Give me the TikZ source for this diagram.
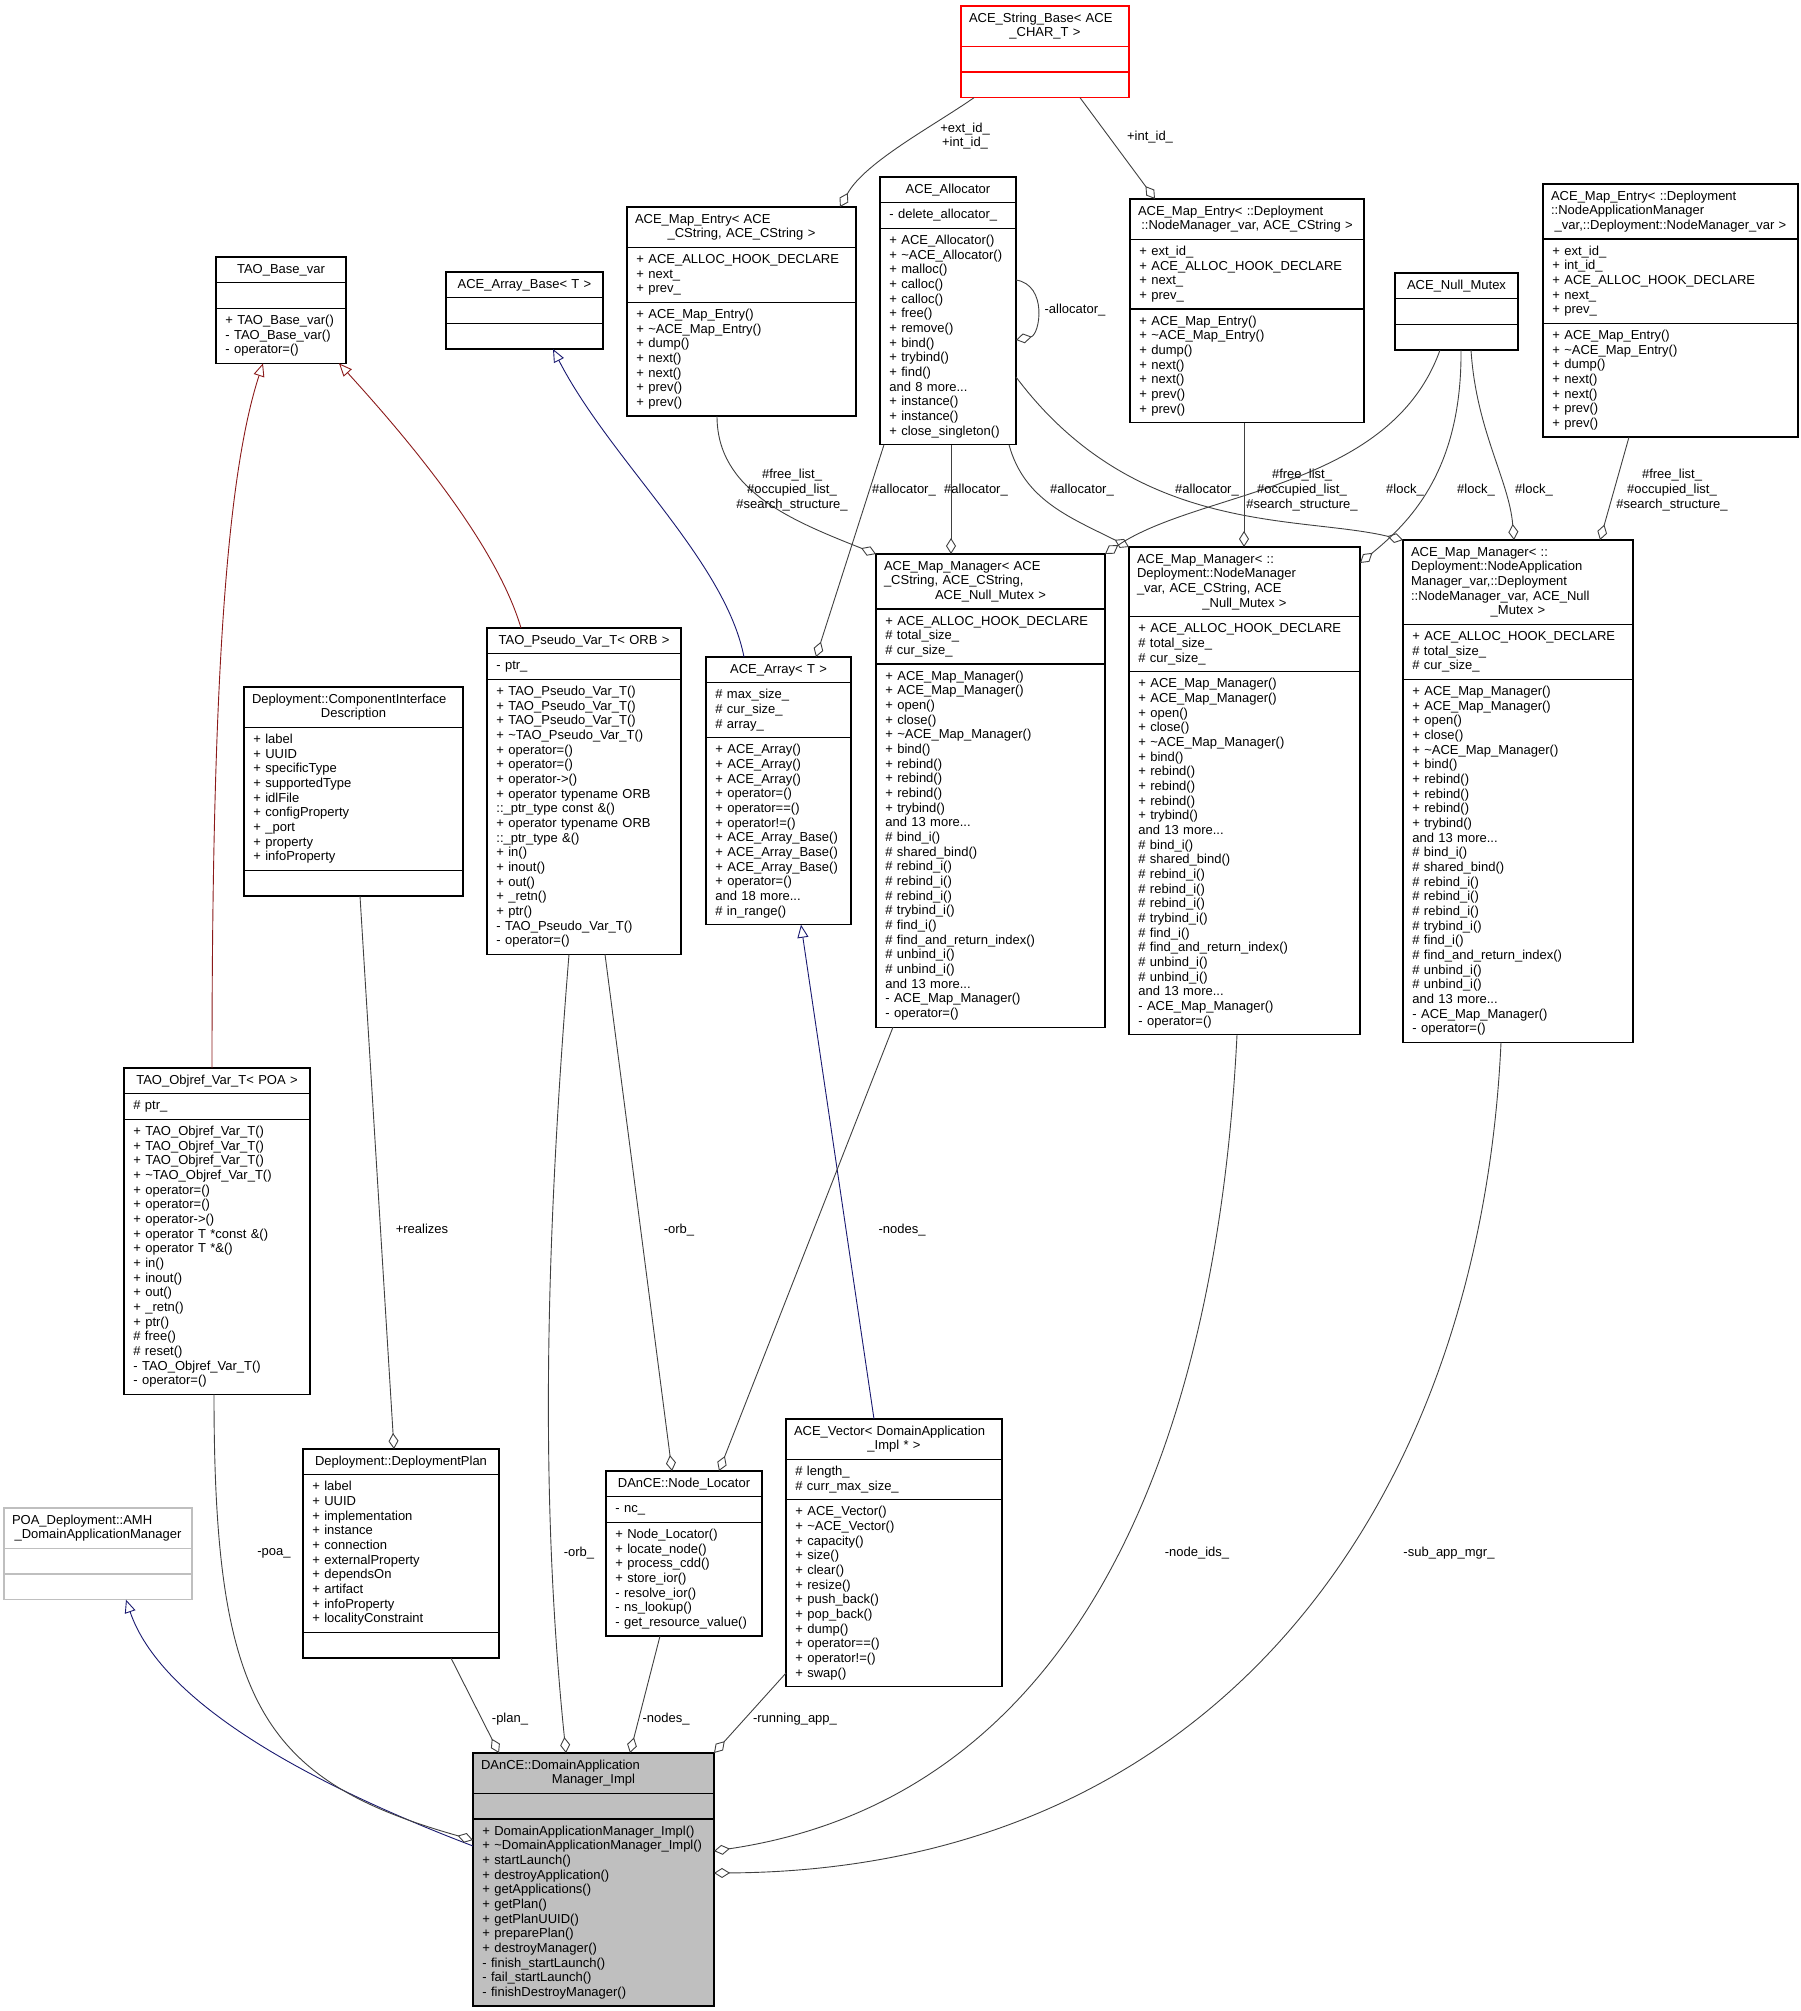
\documentclass[tikz,border=0pt]{standalone}
\usepackage{fontspec}
\setmainfont{Liberation Sans}
\usetikzlibrary{arrows.meta,calc}

\definecolor{relgrey}{HTML}{404040}
\definecolor{pubblue}{HTML}{191970}
\definecolor{privred}{HTML}{8B1A1A}
\definecolor{boxgrey}{HTML}{BFBFBF}

\newcommand{\umlfont}{\fontsize{6.5}{7.33}\selectfont}
\newcommand{\leftln}[1]{\makebox[\hsize][l]{#1}}
\def\umlsplit#1/#2/#3\relax{\def\clsnt{#1}\def\clsna{#2}\def\clsno{#3}}
\newcommand{\meops}{+ ACE\_Map\_Entry()\\+ \textasciitilde ACE\_Map\_Entry()\\+ dump()\\+ next()\\+ next()\\+ prev()\\+ prev()}
\newcommand{\mmattrs}{+ ACE\_ALLOC\_HOOK\_DECLARE\\\# total\_size\_\\\# cur\_size\_}
\newcommand{\mmops}{+ ACE\_Map\_Manager()\\+ ACE\_Map\_Manager()\\+ open()\\+ close()\\+ \textasciitilde ACE\_Map\_Manager()\\+ bind()\\+ rebind()\\+ rebind()\\+ rebind()\\+ trybind()\\and 13 more...\\\# bind\_i()\\\# shared\_bind()\\\# rebind\_i()\\\# rebind\_i()\\\# rebind\_i()\\\# trybind\_i()\\\# find\_i()\\\# find\_and\_return\_index()\\\# unbind\_i()\\\# unbind\_i()\\and 13 more...\\- ACE\_Map\_Manager()\\- operator=()}
\newcommand{\freelbl}{\#free\_list\_\\\#occupied\_list\_\\\#search\_structure\_}

% [style]{name}{x,y}{width}{title/attr/op lines}{title}{attributes}{operations}
\newcommand{\umlcls}[8][]{%
  \umlsplit#5\relax
  \pgfmathsetmacro\clsha{14.67*max(\clsnt,1)+11}%
  \pgfmathsetmacro\clshb{14.67*max(\clsna,1)+11}%
  \pgfmathsetmacro\clshc{14.67*max(\clsno,1)+11}%
  \node[clsbox,#1,minimum width=#4*0.5pt,minimum height=(\clsha+\clshb+\clshc)*0.5pt] (#2) at (#3) {};
  \draw[clsline,#1] ($(#2.north west)+(0,\clsha)$) -- ($(#2.north east)+(0,\clsha)$)
    ($(#2.north west)+(0,\clsha+\clshb)$) -- ($(#2.north east)+(0,\clsha+\clshb)$);
  \node[clstitle,text width=(#4-16)*0.5pt] (#2-t) at ($(#2.north)+(0,5.5)$) {#6};
  \node[clstext,text width=(#4-12)*0.5pt] (#2-a) at ($(#2.north west)+(9,\clsha+5.5)$) {#7};
  \node[clstext,text width=(#4-12)*0.5pt] (#2-o) at ($(#2.north west)+(9,\clsha+\clshb+5.5)$) {#8};
}

\begin{document}
\begin{tikzpicture}[x=0.5pt,y=-0.5pt,
  clsbox/.style={draw,line width=0.6pt,fill=white,inner sep=0pt,outer sep=0pt,anchor=north west},
  clsline/.style={line width=0.6pt},
  clstitle/.style={anchor=north,inner sep=0pt,font=\umlfont,align=center,execute at begin node=\strut},
  clstext/.style={anchor=north west,inner sep=0pt,font=\umlfont,align=left,execute at begin node=\strut},
  lbl/.style={inner sep=0pt,font=\umlfont,align=center},
  aggr/.style={draw=relgrey,line width=0.45pt,-{Diamond[open,length=8pt,width=5pt]}},
  inhpub/.style={draw=pubblue,line width=0.45pt,-{Triangle[open,length=6.5pt,width=5.5pt]}},
  inhpriv/.style={draw=privred,line width=0.45pt,-{Triangle[open,length=6.5pt,width=5.5pt]}}]

\useasboundingbox (0,0) rectangle (1800,2011);

\umlcls[draw=red]{strbase}{961,6}{168}{2/0/0}{\leftln{ACE\_String\_Base< ACE}\\\_CHAR\_T >}{}{}
\umlcls{mecs}{627,207}{229}{2/3/7}{\leftln{ACE\_Map\_Entry< ACE}\\\_CString, ACE\_CString >}{+ ACE\_ALLOC\_HOOK\_DECLARE\\+ next\_\\+ prev\_}{\meops}
\umlcls{alloc}{880,177}{136}{1/1/14}{ACE\_Allocator}{- delete\_allocator\_}{+ ACE\_Allocator()\\+ \textasciitilde ACE\_Allocator()\\+ malloc()\\+ calloc()\\+ calloc()\\+ free()\\+ remove()\\+ bind()\\+ trybind()\\+ find()\\and 8 more...\\+ instance()\\+ instance()\\+ close\_singleton()}
\umlcls{menm}{1130,199}{234}{2/4/7}{\leftln{ACE\_Map\_Entry< ::Deployment}\\::NodeManager\_var, ACE\_CString >}{+ ext\_id\_\\+ ACE\_ALLOC\_HOOK\_DECLARE\\+ next\_\\+ prev\_}{\meops}
\umlcls{menam}{1543,184}{255}{3/5/7}{\leftln{ACE\_Map\_Entry< ::Deployment}\\\leftln{::NodeApplicationManager}\\\_var,::Deployment::NodeManager\_var >}{+ ext\_id\_\\+ int\_id\_\\+ ACE\_ALLOC\_HOOK\_DECLARE\\+ next\_\\+ prev\_}{\meops}
\umlcls{nullmx}{1395,273}{123}{1/0/0}{ACE\_Null\_Mutex}{}{}
\umlcls{basevar}{216,257}{130}{1/0/3}{TAO\_Base\_var}{}{+ TAO\_Base\_var()\\- TAO\_Base\_var()\\- operator=()}
\umlcls{arrbase}{446,272}{157}{1/0/0}{ACE\_Array\_Base< T >}{}{}
\umlcls{pseudo}{487,628}{194}{1/1/18}{TAO\_Pseudo\_Var\_T< ORB >}{- ptr\_}{+ TAO\_Pseudo\_Var\_T()\\+ TAO\_Pseudo\_Var\_T()\\+ TAO\_Pseudo\_Var\_T()\\+ \textasciitilde TAO\_Pseudo\_Var\_T()\\+ operator=()\\+ operator=()\\+ operator->()\\+ operator typename ORB\\::\_ptr\_type const \&()\\+ operator typename ORB\\::\_ptr\_type \&()\\+ in()\\+ inout()\\+ out()\\+ \_retn()\\+ ptr()\\- TAO\_Pseudo\_Var\_T()\\- operator=()}
\umlcls{arr}{706,657}{145}{1/3/12}{ACE\_Array< T >}{\# max\_size\_\\\# cur\_size\_\\\# array\_}{+ ACE\_Array()\\+ ACE\_Array()\\+ ACE\_Array()\\+ operator=()\\+ operator==()\\+ operator!=()\\+ ACE\_Array\_Base()\\+ ACE\_Array\_Base()\\+ ACE\_Array\_Base()\\+ operator=()\\and 18 more...\\\# in\_range()}
\umlcls{mmcs}{876,554}{229}{3/3/24}{\leftln{ACE\_Map\_Manager< ACE}\\\leftln{\_CString, ACE\_CString,}\\ACE\_Null\_Mutex >}{\mmattrs}{\mmops}
\umlcls{mmnm}{1129,547}{231}{4/3/24}{\leftln{ACE\_Map\_Manager< ::}\\\leftln{Deployment::NodeManager}\\\leftln{\_var, ACE\_CString, ACE}\\\_Null\_Mutex >}{\mmattrs}{\mmops}
\umlcls{mmnam}{1403,540}{230}{5/3/24}{\leftln{ACE\_Map\_Manager< ::}\\\leftln{Deployment::NodeApplication}\\\leftln{Manager\_var,::Deployment}\\\leftln{::NodeManager\_var, ACE\_Null}\\\_Mutex >}{\mmattrs}{\mmops}
\umlcls{cid}{244,687}{219}{2/9/0}{\leftln{Deployment::ComponentInterface}\\Description}{+ label\\+ UUID\\+ specificType\\+ supportedType\\+ idlFile\\+ configProperty\\+ \_port\\+ property\\+ infoProperty}{}
\umlcls{objref}{124,1068}{186}{1/1/18}{TAO\_Objref\_Var\_T< POA >}{\# ptr\_}{+ TAO\_Objref\_Var\_T()\\+ TAO\_Objref\_Var\_T()\\+ TAO\_Objref\_Var\_T()\\+ \textasciitilde TAO\_Objref\_Var\_T()\\+ operator=()\\+ operator=()\\+ operator->()\\+ operator T *const \&()\\+ operator T *\&()\\+ in()\\+ inout()\\+ out()\\+ \_retn()\\+ ptr()\\\# free()\\\# reset()\\- TAO\_Objref\_Var\_T()\\- operator=()}
\umlcls[draw=boxgrey]{poa}{4,1508}{188}{2/0/0}{\leftln{POA\_Deployment::AMH}\\\_DomainApplicationManager}{}{}
\umlcls{dplan}{303,1449}{196}{1/10/0}{Deployment::DeploymentPlan}{+ label\\+ UUID\\+ implementation\\+ instance\\+ connection\\+ externalProperty\\+ dependsOn\\+ artifact\\+ infoProperty\\+ localityConstraint}{}
\umlcls{nloc}{606,1471}{156}{1/1/7}{DAnCE::Node\_Locator}{- nc\_}{+ Node\_Locator()\\+ locate\_node()\\+ process\_cdd()\\+ store\_ior()\\- resolve\_ior()\\- ns\_lookup()\\- get\_resource\_value()}
\umlcls{vec}{786,1419}{216}{2/2/12}{\leftln{ACE\_Vector< DomainApplication}\\\_Impl * >}{\# length\_\\\# curr\_max\_size\_}{+ ACE\_Vector()\\+ \textasciitilde ACE\_Vector()\\+ capacity()\\+ size()\\+ clear()\\+ resize()\\+ push\_back()\\+ pop\_back()\\+ dump()\\+ operator==()\\+ operator!=()\\+ swap()}
\umlcls[fill=boxgrey]{dam}{473,1753}{241}{2/0/12}{\leftln{DAnCE::DomainApplication}\\Manager\_Impl}{}{+ DomainApplicationManager\_Impl()\\+ \textasciitilde DomainApplicationManager\_Impl()\\+ startLaunch()\\+ destroyApplication()\\+ getApplications()\\+ getPlan()\\+ getPlanUUID()\\+ preparePlan()\\+ destroyManager()\\- finish\_startLaunch()\\- fail\_startLaunch()\\- finishDestroyManager()}

% inheritance
\draw[inhpriv] ($(objref.north west)+(88,0)$) .. controls +(0,-368) and +(-38,117) .. ($(basevar.south west)+(47,0)$);
\draw[inhpriv] ($(pseudo.north west)+(34,0)$) .. controls +(-26,-88) and +(61,67) .. ($(basevar.south west)+(123,0)$);
\draw[inhpub] ($(arr.north west)+(38,0)$) .. controls +(-19,-97) and +(57,111) .. ($(arrbase.south west)+(107,0)$);
\draw[inhpub] ($(vec.north west)+(88,0)$) -- ($(arr.south west)+(95,0)$);
\draw[inhpub] ($(dam.north west)+(0,93)$) .. controls +(-173,-66) and +(34,100) .. ($(poa.south west)+(122,0)$);

% members
\draw[aggr] ($(strbase.south west)+(13,0)$) .. controls +(-40,28) and +(25,-45) .. ($(mecs.north west)+(213,0)$);
\draw[aggr] ($(strbase.south west)+(119,0)$) -- ($(menm.north west)+(25,0)$);
\draw[aggr] ($(alloc.north east)+(0,103)$) .. controls +(32,5) and +(24,-5) .. ($(alloc.north east)+(0,163)$);
\draw[aggr] ($(mecs.south west)+(90,0)$) .. controls +(0,74) and +(-86,-34) .. (mmcs.north west);
\draw[aggr] ($(alloc.south west)+(4,0)$) -- ($(arr.north west)+(110,0)$);
\draw[aggr] ($(alloc.south west)+(71,0)$) -- ($(mmcs.north west)+(75,0)$);
\draw[aggr] ($(alloc.south west)+(129,0)$) .. controls +(15,55) and +(-60,-30) .. (mmnm.north west);
\draw[aggr] ($(alloc.north east)+(0,200)$) .. controls +(120,160) and +(-103,-25) .. (mmnam.north west);
\draw[aggr] ($(nullmx.south west)+(45,0)$) .. controls +(-50,140) and +(95,-64) .. (mmcs.north east);
\draw[aggr] ($(nullmx.south west)+(66,0)$) .. controls +(1,120) and +(50,-41) .. ($(mmnm.north east)+(0,16)$);
\draw[aggr] ($(nullmx.south west)+(76,0)$) .. controls +(5,80) and +(-5,-60) .. ($(mmnam.north west)+(111,0)$);
\draw[aggr] ($(menm.south west)+(114,0)$) -- ($(mmnm.north west)+(115,0)$);
\draw[aggr] ($(menam.south west)+(86,0)$) -- ($(mmnam.north west)+(197,0)$);
\draw[aggr] ($(cid.south west)+(116,0)$) -- ($(dplan.north west)+(91,0)$);
\draw[aggr] ($(objref.south west)+(90,0)$) .. controls +(0,306) and +(-213,-60) .. ($(dam.north west)+(0,87)$);
\draw[aggr] ($(dplan.south west)+(148,0)$) -- ($(dam.north west)+(26,0)$);
\draw[aggr] ($(pseudo.south west)+(82,0)$) .. controls +(-24,296) and +(-26,-253) .. ($(dam.north west)+(93,0)$);
\draw[aggr] ($(pseudo.south west)+(118,0)$) -- ($(nloc.north west)+(66,0)$);
\draw[aggr] ($(mmcs.south west)+(17,0)$) -- ($(nloc.north west)+(113,0)$);
\draw[aggr] ($(nloc.south west)+(54,0)$) -- ($(dam.north west)+(157,0)$);
\draw[aggr] ($(vec.north west)+(0,254)$) -- (dam.north east);
\draw[aggr] ($(mmnm.south west)+(108,0)$) .. controls +(-22,445) and +(346,-51) .. ($(dam.north east)+(0,98)$);
\draw[aggr] ($(mmnam.south west)+(98,0)$) .. controls +(-21,458) and +(506,-3) .. ($(dam.north east)+(0,120)$);

% labels
\node[lbl] (lextint) at (965,136) {+ext\_id\_\\+int\_id\_};
\node[lbl] (lintid) at (1150,137) {+int\_id\_};
\node[lbl] (lalloc) at (1075,310) {-allocator\_};
\node[lbl] (lfree1) at (792,490) {\freelbl};
\node[lbl] (lalloc1) at (904,490) {\#allocator\_};
\node[lbl] (lalloc2) at (976,490) {\#allocator\_};
\node[lbl] (lalloc3) at (1082,490) {\#allocator\_};
\node[lbl] (lalloc4) at (1207,490) {\#allocator\_};
\node[lbl] (lfree2) at (1302,490) {\freelbl};
\node[lbl] (llock1) at (1405,490) {\#lock\_};
\node[lbl] (llock2) at (1476,490) {\#lock\_};
\node[lbl] (llock3) at (1534,490) {\#lock\_};
\node[lbl] (lfree3) at (1672,490) {\freelbl};
\node[lbl] (lreal) at (422,1229) {+realizes};
\node[lbl] (lorb1) at (679,1230) {-orb\_};
\node[lbl] (lnodes1) at (902,1230) {-nodes\_};
\node[lbl] (lpoa) at (274,1553) {-poa\_};
\node[lbl] (lorb2) at (579,1553) {-orb\_};
\node[lbl] (lnodeids) at (1197,1553) {-node\_ids\_};
\node[lbl] (lsubapp) at (1449,1553) {-sub\_app\_mgr\_};
\node[lbl] (lplan) at (510,1719) {-plan\_};
\node[lbl] (lnodes2) at (666,1719) {-nodes\_};
\node[lbl] (lrun) at (795,1719) {-running\_app\_};
\end{tikzpicture}
\end{document}
